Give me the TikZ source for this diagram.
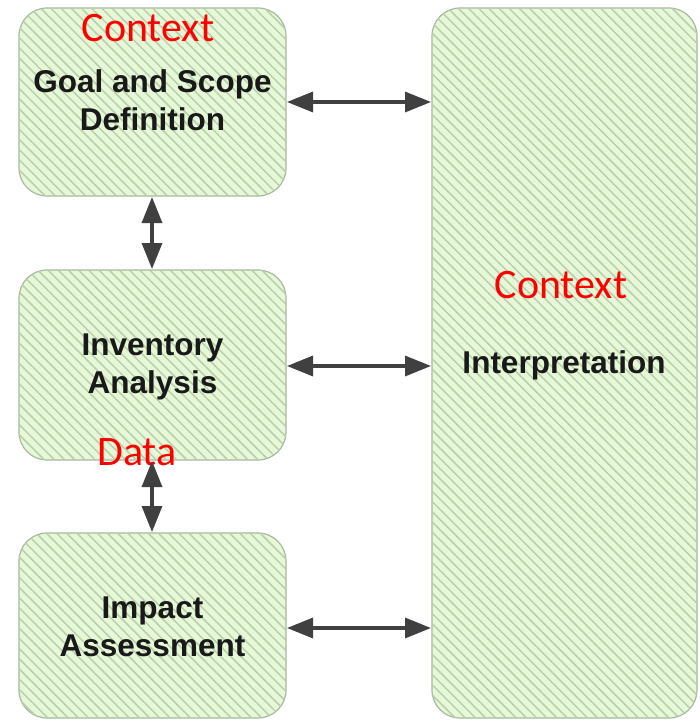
\documentclass[tikz,border=0pt]{standalone}
\usepackage{fontspec}
\setmainfont{Liberation Sans}
\newfontfamily\redfont{Carlito}
\usetikzlibrary{patterns.meta,arrows.meta}
\definecolor{boxfill}{HTML}{E6F8D8}
\definecolor{hatch}{HTML}{B8D0AA}
\definecolor{boxline}{HTML}{A8B8A0}
\definecolor{arrowgray}{HTML}{404040}
\tikzset{
  stagebox/.style={draw=boxline, line width=1.2pt, rounded corners=28pt,
    fill=boxfill, postaction={pattern={Lines[angle=-45,distance=7.2pt,line width=1.5pt]}, pattern color=hatch}},
  label/.style={font=\fontsize{31.5}{38}\selectfont\bfseries, text=black!90, align=center},
  redlabel/.style={font=\redfont\fontsize{42}{44}\selectfont, text=red},
  link/.style={draw=arrowgray, line width=3.3pt, {Triangle[length=26pt,width=20pt]}-{Triangle[length=26pt,width=20pt]}, shorten <=1pt, shorten >=1pt}
}
\begin{document}
\begin{tikzpicture}[x=1pt,y=-1pt]
\useasboundingbox (0,0) rectangle (700,721);
\fill[white] (0,0) rectangle (700,721);
\path[stagebox] (19,8) rectangle (286,196);
\path[stagebox] (19,270) rectangle (286,460);
\path[stagebox] (19,533) rectangle (286,718);
\path[stagebox] (432,8) rectangle (697,718);
\node[label] (goal) at (152.5,100) {Goal and Scope\\Definition};
\node[label] (inv) at (152.5,367) {Inventory\\Analysis};
\node[label] (imp) at (152.5,627) {Impact\\Assessment};
\node[label] (interp) at (564,365) {Interpretation};
\node[redlabel] (c1) at (148,28) {Context};
\node[redlabel] (c2) at (561,285) {Context};
\node[redlabel] (d1) at (137,452) {Data};
\coordinate (g1) at (286,102);
\coordinate (r1) at (432,102);
\coordinate (g2) at (286,366);
\coordinate (r2) at (432,366);
\coordinate (g3) at (286,628);
\coordinate (r3) at (432,628);
\coordinate (v1a) at (152,196);
\coordinate (v1b) at (152,270);
\coordinate (v2a) at (152,460);
\coordinate (v2b) at (152,533);
\draw[link] (g1) -- (r1);
\draw[link] (g2) -- (r2);
\draw[link] (g3) -- (r3);
\draw[link] (v1a) -- (v1b);
\draw[link] (v2a) -- (v2b);
\end{tikzpicture}
\end{document}
